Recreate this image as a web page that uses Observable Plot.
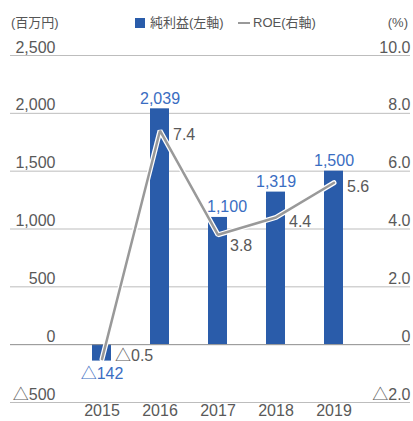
<!DOCTYPE html>
<html><head><meta charset="utf-8">
<script src="https://cdn.jsdelivr.net/npm/d3@7"></script>
<script src="https://cdn.jsdelivr.net/npm/@observablehq/plot@0.6"></script>
<style>
body{margin:0;background:#fff;font-family:"Liberation Sans","Noto Sans CJK JP",sans-serif;}
#wrap{position:relative;width:413px;height:421px;overflow:hidden;}
#chart{position:absolute;left:0;top:0;}
.hdr{position:absolute;top:15px;font-size:13px;line-height:16px;color:#555;white-space:nowrap;z-index:2;}
.sw{position:absolute;z-index:2;}
</style></head><body>
<div id="wrap">
  <div id="chart"></div>
  <div class="hdr" style="left:11px">(百万円)</div>
  <div class="sw" style="left:135px;top:18px;width:10px;height:10px;background:#2a5caa"></div>
  <div class="hdr" style="left:150px">純利益(左軸)</div>
  <div class="sw" style="left:238px;top:22px;width:12px;height:2px;background:#999"></div>
  <div class="hdr" style="left:253px">ROE(右軸)</div>
  <div class="hdr" style="right:5px">(%)</div>
</div>
<script>
const years = ["2015", "2016", "2017", "2018", "2019"];
const netIncome = [-142, 2039, 1100, 1319, 1500];   // 百万円
const roe = [-0.5, 7.4, 3.8, 4.4, 5.6];             // %
const leftTicks = [-500, 0, 500, 1000, 1500, 2000, 2500];
const leftTickLabels = ["△500", "0", "500", "1,000", "1,500", "2,000", "2,500"];
const rightTicks = [-2, 0, 2, 4, 6, 8, 10];
const rightTickLabels = ["△2.0", "0", "2.0", "4.0", "6.0", "8.0", "10.0"];

const ratio = 2500 / 10; // right axis (%) -> left axis (百万円)
const fmtNI = v => (v < 0 ? "△" : "") + d3.format(",")(Math.abs(v));
const fmtROE = v => (v < 0 ? "△" : "") + d3.format(".1f")(Math.abs(v));

const data = years.map((y, i) => ({
  year: y, ni: netIncome[i], roe: roe[i], roeY: roe[i] * ratio,
  nl: fmtNI(netIncome[i]), rl: fmtROE(roe[i])
}));

const blue = "#2a5caa", labelBlue = "#3a6dc2", gray = "#595959";

const chart = Plot.plot({
  width: 413, height: 421,
  marginTop: 55, marginBottom: 19, marginLeft: 10, marginRight: 3,
  style: {fontFamily: '"Liberation Sans","Noto Sans CJK JP",sans-serif', fontSize: "16px", color: gray, background: "white"},
  x: {type: "band", domain: years, range: [73, 363], paddingInner: 0.672, paddingOuter: 0.336, label: null},
  y: {domain: [-500, 2500], axis: null},
  marks: [
    Plot.ruleY(leftTicks.filter(d => d !== 0), {stroke: "#bdbdbd", strokeWidth: 1}),
    Plot.text(leftTicks, {y: d => d, text: (d, i) => leftTickLabels[i], frameAnchor: "left", textAnchor: "end", dx: 45, lineAnchor: "bottom", dy: -3, fill: gray}),
    Plot.text(rightTicks, {y: d => d * ratio, text: (d, i) => rightTickLabels[i], frameAnchor: "right", textAnchor: "end", lineAnchor: "bottom", dy: -3, fill: gray}),
    Plot.axisX({tickSize: 0, tickPadding: 2, fontSize: 16, label: null, fill: gray}),
    Plot.barY(data, {x: "year", y: "ni", fill: blue}),
    Plot.ruleY([0], {stroke: "#8c8c8c", strokeWidth: 1}),
    Plot.line(data, {x: "year", y: "roeY", stroke: "white", strokeWidth: 5, strokeLinejoin: "miter"}),
    Plot.line(data, {x: "year", y: "roeY", stroke: "#999", strokeWidth: 2.5, strokeLinejoin: "miter"}),
    Plot.text(data.filter(d => d.ni >= 0 && d.year !== "2017"), {x: "year", y: "ni", text: "nl", lineAnchor: "bottom", dy: -5, fill: labelBlue}),
    Plot.text(data.filter(d => d.year === "2017"), {x: "year", y: "ni", text: "nl", lineAnchor: "bottom", dy: -5, dx: 9, fill: labelBlue}),
    Plot.text(data.filter(d => d.ni < 0), {x: "year", y: "ni", text: "nl", lineAnchor: "top", dy: 7, fill: labelBlue}),
    Plot.text(data.filter(d => d.roe > 4), {x: "year", y: "roeY", text: "rl", textAnchor: "start", dx: 13, dy: 4, fill: gray}),
    Plot.text(data.filter(d => d.roe > 0 && d.roe < 4), {x: "year", y: "roeY", text: "rl", textAnchor: "start", dx: 12, dy: 11, fill: gray}),
    Plot.text(data.filter(d => d.roe < 0), {x: "year", y: "roeY", text: "rl", textAnchor: "start", dx: 13, dy: -3, fill: gray})
  ]
});
document.getElementById("chart").append(chart);
</script>
</body></html>
